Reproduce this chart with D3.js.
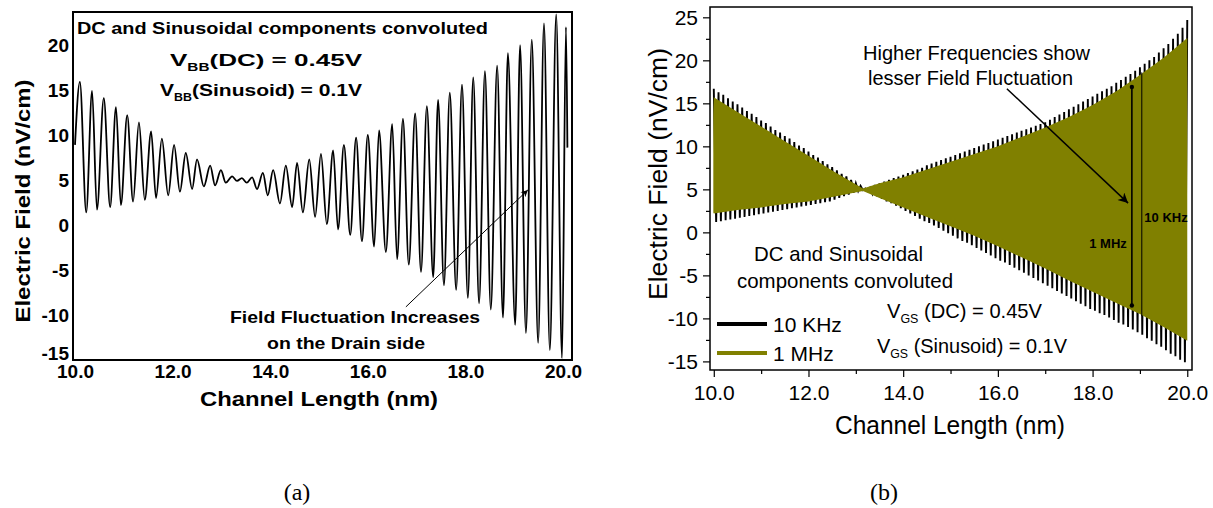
<!DOCTYPE html>
<html>
<head>
<meta charset="utf-8">
<script src="https://cdn.jsdelivr.net/npm/d3@7/dist/d3.min.js"></script>
<style>
  body { margin: 0; background: #fff; }
  svg { display: block; }
</style>
</head>
<body>
<svg id="chart" width="1213" height="508"></svg>
<script>
// ---- panel (a): one trace, extremes (x in nm, field in nV/cm)
const peakXA = [10.10, 10.35, 10.59, 10.84, 11.07, 11.31, 11.56, 11.78, 12.03, 12.27,
  12.50, 12.77, 12.99, 13.22, 13.42, 13.63, 13.85, 14.06, 14.32, 14.55,
  14.80, 15.04, 15.29, 15.51, 15.76, 16.00, 16.23, 16.50, 16.72, 16.97,
  17.21, 17.44, 17.68, 17.93, 18.16, 18.40, 18.65, 18.87, 19.12, 19.36,
  19.61, 19.86, 20.06];
const peakVA = [15.9, 14.9, 14.1, 13.1, 12.2, 11.4, 10.4, 9.6, 8.9, 8.0,
  7.3, 6.6, 6.1, 5.4, 5.2, 5.3, 5.8, 6.1, 6.6, 6.9,
  7.3, 7.9, 8.3, 8.9, 9.7, 10.0, 10.5, 11.2, 11.8, 12.4,
  13.2, 13.9, 14.7, 15.6, 16.4, 17.1, 17.7, 19.1, 20.0, 20.6,
  22.4, 23.4, 22.0];
const troughXA = [10.23, 10.45, 10.72, 10.94, 11.19, 11.43, 11.66, 11.91, 12.15, 12.40,
  12.64, 12.87, 13.09, 13.32, 13.52, 13.73, 13.95, 14.20, 14.45, 14.67,
  14.92, 15.16, 15.39, 15.64, 15.88, 16.13, 16.37, 16.60, 16.84, 17.09,
  17.34, 17.56, 17.81, 18.05, 18.28, 18.52, 18.77, 19.02, 19.24, 19.49,
  19.73, 19.98];
const troughVA = [1.4, 1.7, 2.0, 2.2, 2.6, 2.8, 3.0, 3.3, 3.7, 4.0,
  4.3, 4.4, 4.7, 4.9, 4.7, 4.0, 3.3, 2.4, 2.0, 1.4,
  0.9, 0.1, -0.5, -1.1, -1.8, -2.4, -3.0, -3.8, -4.4, -5.2,
  -5.8, -6.7, -7.2, -8.1, -8.7, -9.4, -10.3, -11.1, -12.0, -13.1,
  -13.9, -14.8];
const edgeXA = [10.0, 20.09];
const edgeVA = [8.9, 8.6];

const yTicksA = [-15, -10, -5, 0, 5, 10, 15, 20];
const xTicks = [10, 12, 14, 16, 18, 20];

// ---- panel (b): 10 KHz trace sampled every half period from 10.0 nm
const khzStart = 10.0;
const khzHalf = 0.05;
const khzPeaks = [16.7, 16.3, 16.0, 15.6, 15.2, 14.9, 14.5, 14.1, 13.8, 13.4,
  13.0, 12.7, 12.3, 11.9, 11.6, 11.2, 10.9, 10.5, 10.1, 9.8,
  9.4, 9.0, 8.7, 8.3, 7.9, 7.6, 7.2, 6.8, 6.5, 6.1,
  5.7, 5.4, 5.1, 5.2, 5.5, 5.7, 5.9, 6.1, 6.3, 6.5,
  6.7, 6.9, 7.1, 7.3, 7.5, 7.8, 8.0, 8.2, 8.4, 8.6,
  8.8, 9.0, 9.2, 9.4, 9.6, 9.8, 10.0, 10.2, 10.4, 10.6,
  10.8, 11.0, 11.2, 11.4, 11.6, 11.8, 12.0, 12.2, 12.4, 12.6,
  12.8, 13.1, 13.4, 13.7, 14.0, 14.3, 14.6, 14.9, 15.2, 15.5,
  15.8, 16.1, 16.4, 16.7, 17.0, 17.4, 17.7, 18.1, 18.4, 18.8,
  19.2, 19.6, 20.0, 20.4, 20.9, 21.4, 21.9, 22.5, 23.1, 23.8,
  24.7];
const khzTroughs = [1.2, 1.3, 1.4, 1.5, 1.6, 1.7, 1.8, 1.9, 2.0, 2.1,
  2.2, 2.3, 2.4, 2.5, 2.6, 2.7, 2.8, 2.9, 3.0, 3.1,
  3.2, 3.3, 3.4, 3.5, 3.6, 3.8, 4.0, 4.2, 4.4, 4.6,
  4.8, 4.9, 4.8, 4.5, 4.2, 3.9, 3.6, 3.4, 3.1, 2.8,
  2.5, 2.2, 1.9, 1.6, 1.3, 1.1, 0.8, 0.5, 0.2, -0.1,
  -0.4, -0.7, -1.0, -1.2, -1.5, -1.8, -2.1, -2.4, -2.7, -3.0,
  -3.3, -3.5, -3.8, -4.1, -4.4, -4.7, -5.0, -5.3, -5.6, -5.9,
  -6.2, -6.5, -6.8, -7.1, -7.4, -7.7, -8.0, -8.3, -8.6, -8.9,
  -9.1, -9.4, -9.6, -9.9, -10.2, -10.5, -10.7, -11.0, -11.3, -11.6,
  -11.9, -12.3, -12.6, -13.0, -13.3, -13.7, -14.1, -14.4, -14.8, -15.1];

// 1 MHz trace: too dense to resolve, read as its upper / lower envelope
const mhzX = [9.99, 10.0, 10.5, 11.0, 11.5, 12.0, 12.5, 13.15, 13.5, 14.0, 14.5,
  15.0, 15.5, 16.0, 16.5, 17.0, 17.5, 18.0, 18.5, 19.0, 19.5, 20.0];
const mhzUpper = [13.7, 15.7, 14.0, 12.3, 10.6, 8.9, 7.2, 5.1, 5.7, 6.4, 7.3,
  8.2, 9.1, 10.0, 11.1, 12.2, 13.4, 14.8, 16.4, 18.3, 20.3, 22.6];
const mhzLower = [2.3, 2.2, 2.6, 2.9, 3.3, 3.6, 4.1, 4.8, 4.0, 2.9, 1.8,
  0.7, -0.4, -1.6, -2.9, -4.2, -5.6, -6.9, -8.2, -9.5, -11.0, -12.6];

const yTicksB = [-15, -10, -5, 0, 5, 10, 15, 20, 25];
const yMinorB = [-12.5, -7.5, -2.5, 2.5, 7.5, 12.5, 17.5, 22.5];
const xMinorB = [11, 13, 15, 17, 19];

// amplitude markers drawn in panel (b): x, top, bottom
const markX = [18.83, 19.04];
const markTop = [16.9, 18.6];
const markBottom = [-8.5, -9.7];

const FONT = '"Liberation Sans", Arial, Helvetica, sans-serif';
const OLIVE = "#808000";

const svg = d3.select("#chart").attr("font-family", FONT);
svg.append("rect").attr("width", 1213).attr("height", 508).attr("fill", "#fff");

const defs = svg.append("defs");
function arrowMarker(id, w, h) {
  defs.append("marker")
    .attr("id", id)
    .attr("viewBox", "0 0 10 10")
    .attr("refX", 10).attr("refY", 5)
    .attr("markerWidth", w).attr("markerHeight", h)
    .attr("markerUnits", "userSpaceOnUse")
    .attr("orient", "auto")
    .append("path").attr("d", "M0,0 L10,5 L0,10 L3,5 Z").attr("fill", "#000");
}
arrowMarker("arrA", 9, 7);
arrowMarker("arrB", 13, 10);

// =================== panel (a) ===================
const xA = d3.scaleLinear().domain([9.959, 20.184]).range([73, 572]);
const yA = d3.scaleLinear().domain([-15, 23.67]).range([360, 12]);
const gA = svg.append("g");

defs.append("clipPath").attr("id", "clipA").append("rect")
  .attr("x", 73).attr("y", 12).attr("width", 499).attr("height", 348);

const ptsA = [
  ...peakXA.map((x, i) => [x, peakVA[i]]),
  ...troughXA.map((x, i) => [x, troughVA[i]]),
  ...edgeXA.map((x, i) => [x, edgeVA[i]]),
].sort((a, b) => a[0] - b[0]);

gA.append("path")
  .attr("clip-path", "url(#clipA)")
  .attr("d", d3.line().x((d) => xA(d[0])).y((d) => yA(d[1])).curve(d3.curveMonotoneX)(ptsA))
  .attr("fill", "none")
  .attr("stroke", "#000")
  .attr("stroke-width", 1.8);

gA.append("rect")
  .attr("x", 73).attr("y", 12).attr("width", 499).attr("height", 348)
  .attr("fill", "none").attr("stroke", "#000").attr("stroke-width", 2);

const axBottomA = gA.append("g")
  .attr("transform", `translate(0,${yA(-15)})`)
  .call(d3.axisBottom(xA).tickValues(xTicks).tickFormat(d3.format(".1f")).tickSize(0).tickPadding(5));
axBottomA.select(".domain").remove();
axBottomA.attr("font-family", FONT).attr("font-size", 19).attr("font-weight", "bold");

const axLeftA = gA.append("g")
  .attr("transform", `translate(${xA.range()[0]},0)`)
  .call(d3.axisLeft(yA).tickValues(yTicksA).tickFormat((d) => String(d)).tickSize(0).tickPadding(4));
axLeftA.select(".domain").remove();
axLeftA.attr("font-family", FONT).attr("font-size", 19).attr("font-weight", "bold");
// the lowest label sits on the corner, lift it a little off the x labels
axLeftA.selectAll(".tick").filter((d) => d === -15).select("text").attr("dy", "-0.05em");

gA.append("text")
  .attr("x", 319).attr("y", 398)
  .attr("text-anchor", "middle").attr("dominant-baseline", "central")
  .attr("font-size", 21).attr("font-weight", "bold")
  .attr("textLength", 238).attr("lengthAdjust", "spacingAndGlyphs")
  .text("Channel Length (nm)");

gA.append("text")
  .attr("transform", "translate(22,201) rotate(-90)")
  .attr("text-anchor", "middle").attr("dominant-baseline", "central")
  .attr("font-size", 21).attr("font-weight", "bold")
  .attr("textLength", 243).attr("lengthAdjust", "spacingAndGlyphs")
  .text("Electric Field (nV/cm)");

function boldLine(x, y, str, len) {
  gA.append("text")
    .attr("x", x).attr("y", y)
    .attr("dominant-baseline", "central")
    .attr("font-size", 17).attr("font-weight", "bold")
    .attr("textLength", len).attr("lengthAdjust", "spacingAndGlyphs")
    .text(str);
}
boldLine(77, 28, "DC and Sinusoidal components convoluted", 411);
boldLine(230, 317, "Field Fluctuation Increases", 250);
boldLine(267, 343, "on the Drain side", 158);

function subLine(g, x, y, sub, rest, size, subSize, shift, len, weight) {
  const t = g.append("text")
    .attr("x", x).attr("y", y)
    .attr("dominant-baseline", "central")
    .attr("font-size", size).attr("font-weight", weight);
  if (len) t.attr("textLength", len).attr("lengthAdjust", "spacingAndGlyphs");
  t.append("tspan").text("V");
  t.append("tspan").attr("font-size", subSize).attr("dy", shift).text(sub);
  t.append("tspan").attr("dy", -shift).text(rest);
}
subLine(gA, 170, 60, "BB", "(DC) = 0.45V", 17, 10, 7, 192, "bold");
subLine(gA, 160, 90, "BB", "(Sinusoid) = 0.1V", 17, 10, 7, 202, "bold");

gA.append("line")
  .attr("x1", xA(16.78)).attr("y1", yA(-9.1))
  .attr("x2", xA(19.28)).attr("y2", yA(3.9))
  .attr("stroke", "#000").attr("stroke-width", 1)
  .attr("marker-end", "url(#arrA)");

// =================== panel (b) ===================
const xB = d3.scaleLinear().domain([9.92, 20.1]).range([710, 1192]);
const yB = d3.scaleLinear().domain([-16, 26.2]).range([370, 7]);
const gB = svg.append("g");

defs.append("clipPath").attr("id", "clipB").append("rect")
  .attr("x", 710).attr("y", 7).attr("width", 482).attr("height", 363);

const ptsKhz = [];
khzPeaks.forEach((v, i) => {
  ptsKhz.push([khzStart + 2 * i * khzHalf, v]);
  if (i < khzTroughs.length) ptsKhz.push([khzStart + (2 * i + 1) * khzHalf, khzTroughs[i]]);
});

gB.append("path")
  .attr("clip-path", "url(#clipB)")
  .attr("d", d3.line().x((d) => xB(d[0])).y((d) => yB(d[1]))(ptsKhz))
  .attr("fill", "none")
  .attr("stroke", "#000")
  .attr("stroke-width", 1.9);

gB.append("path")
  .attr("clip-path", "url(#clipB)")
  .attr("d", d3.area()
    .x((d, i) => xB(mhzX[i]))
    .y0((d, i) => yB(mhzLower[i]))
    .y1((d, i) => yB(mhzUpper[i]))(mhzX))
  .attr("fill", OLIVE);

// amplitude markers
markX.forEach((x, i) => {
  gB.append("line")
    .attr("x1", xB(x)).attr("x2", xB(x))
    .attr("y1", yB(markTop[i])).attr("y2", yB(markBottom[i]))
    .attr("stroke", "#000").attr("stroke-width", i === 0 ? 1.6 : 1);
});
[markTop[0], markBottom[0]].forEach((v) => {
  gB.append("circle").attr("cx", xB(markX[0])).attr("cy", yB(v)).attr("r", 2.2).attr("fill", "#000");
});
gB.append("text")
  .attr("x", 1108).attr("y", 243)
  .attr("text-anchor", "middle").attr("dominant-baseline", "central")
  .attr("font-size", 13).attr("font-weight", "bold")
  .text("1 MHz");
gB.append("text")
  .attr("x", 1166).attr("y", 217)
  .attr("text-anchor", "middle").attr("dominant-baseline", "central")
  .attr("font-size", 13).attr("font-weight", "bold")
  .text("10 KHz");

gB.append("rect")
  .attr("x", 710).attr("y", 7).attr("width", 482).attr("height", 363)
  .attr("fill", "none").attr("stroke", "#000").attr("stroke-width", 1.5);

function styleAxis(sel, size) {
  sel.select(".domain").remove();
  sel.attr("font-family", FONT).attr("font-size", size);
  sel.selectAll("line").attr("stroke-width", 1.2);
}

const bottomB = gB.append("g").attr("transform", "translate(0,370)")
  .call(d3.axisBottom(xB).tickValues(xTicks).tickFormat(d3.format(".1f")).tickSize(7).tickPadding(8));
styleAxis(bottomB, 21);
const bottomMinorB = gB.append("g").attr("transform", "translate(0,370)")
  .call(d3.axisBottom(xB).tickValues(xMinorB).tickFormat("").tickSize(4));
styleAxis(bottomMinorB, 21);

const leftB = gB.append("g").attr("transform", "translate(710,0)")
  .call(d3.axisLeft(yB).tickValues(yTicksB).tickFormat((d) => String(d)).tickSize(7).tickPadding(5));
styleAxis(leftB, 21);
const leftMinorB = gB.append("g").attr("transform", "translate(710,0)")
  .call(d3.axisLeft(yB).tickValues(yMinorB).tickFormat("").tickSize(4));
styleAxis(leftMinorB, 21);

gB.append("text")
  .attr("x", 950).attr("y", 425)
  .attr("text-anchor", "middle").attr("dominant-baseline", "central")
  .attr("font-size", 25)
  .attr("textLength", 230).attr("lengthAdjust", "spacingAndGlyphs")
  .text("Channel Length (nm)");

gB.append("text")
  .attr("transform", "translate(658,174) rotate(-90)")
  .attr("text-anchor", "middle").attr("dominant-baseline", "central")
  .attr("font-size", 25)
  .attr("textLength", 252).attr("lengthAdjust", "spacingAndGlyphs")
  .text("Electric Field (nV/cm)");

function plainLine(x, y, str, len) {
  gB.append("text")
    .attr("x", x).attr("y", y)
    .attr("dominant-baseline", "central")
    .attr("font-size", 21)
    .attr("textLength", len).attr("lengthAdjust", "spacingAndGlyphs")
    .text(str);
}
plainLine(863, 52, "Higher Frequencies show", 227);
plainLine(868, 77, "lesser Field Fluctuation", 205);
plainLine(754, 253, "DC and Sinusoidal", 169);
plainLine(737, 280, "components convoluted", 216);
subLine(gB, 887, 310, "GS", " (DC) = 0.45V", 21, 13, 8, 155, "normal");
subLine(gB, 877, 345, "GS", " (Sinusoid) = 0.1V", 21, 13, 8, 190, "normal");

gB.append("line")
  .attr("x1", xB(16.19)).attr("y1", yB(16.7))
  .attr("x2", xB(18.75)).attr("y2", yB(3.4))
  .attr("stroke", "#000").attr("stroke-width", 1.5)
  .attr("marker-end", "url(#arrB)");

// legend
const legendNames = ["10 KHz", "1 MHz"];
const legendColors = ["#000", OLIVE];
legendNames.forEach((name, i) => {
  const y = 324 + i * 29;
  gB.append("line").attr("x1", 717).attr("x2", 767).attr("y1", y).attr("y2", y)
    .attr("stroke", legendColors[i]).attr("stroke-width", 4);
  gB.append("text").attr("x", 773).attr("y", y)
    .attr("dominant-baseline", "central").attr("font-size", 21)
    .text(name);
});

// captions
const captions = ["(a)", "(b)"];
const captionX = [297, 884];
captions.forEach((c, i) => {
  svg.append("text")
    .attr("x", captionX[i]).attr("y", 492)
    .attr("text-anchor", "middle").attr("dominant-baseline", "central")
    .attr("font-family", '"Liberation Serif", "Times New Roman", serif')
    .attr("font-size", 24)
    .text(c);
});
</script>
</body>
</html>
